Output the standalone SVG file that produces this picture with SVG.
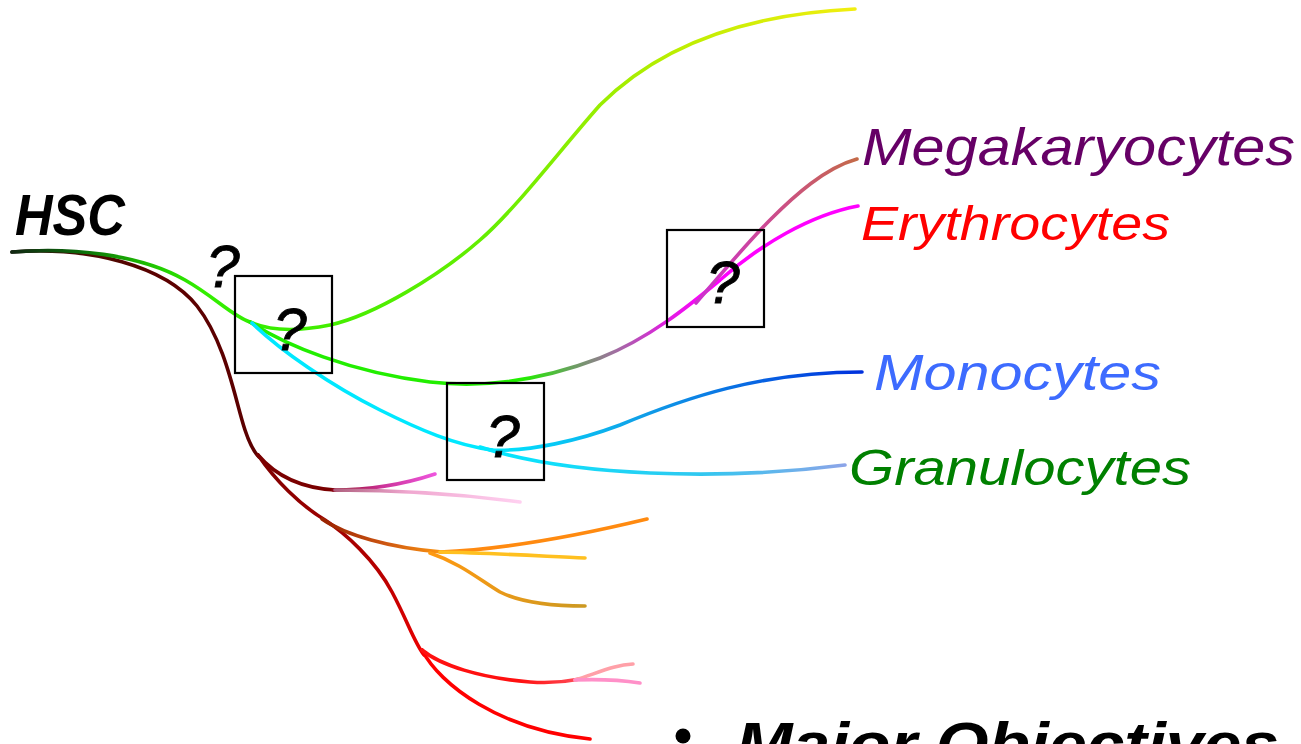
<svg xmlns="http://www.w3.org/2000/svg" width="1301" height="744" viewBox="0 0 1301 744">
  <style>
    .lin { fill: none; stroke-width: 3.6; stroke-linecap: round; stroke-linejoin: round; }
    .box { fill: none; stroke: #000; stroke-width: 2.2; }
    .q { font-family: "Liberation Sans", Arial, sans-serif; font-style: italic; font-size: 60px; fill: #000; stroke: #000; stroke-width: 0.8; text-anchor: middle; }
    .lbl { font-family: "Liberation Sans", Arial, sans-serif; font-style: italic; }
    .bold { font-family: "Liberation Sans", Arial, sans-serif; font-style: italic; font-weight: bold; fill: #000; }
  </style>
  <defs>
    <linearGradient id="gTrunkGreen" gradientUnits="userSpaceOnUse" x1="12" y1="0" x2="200" y2="0">
      <stop offset="0" stop-color="#122812"/>
      <stop offset="0.35" stop-color="#0a6a0a"/>
      <stop offset="0.8" stop-color="#22d000"/>
      <stop offset="1" stop-color="#33ee00"/>
    </linearGradient>
    <linearGradient id="gTrunkRed" gradientUnits="userSpaceOnUse" x1="12" y1="0" x2="160" y2="0">
      <stop offset="0" stop-color="#1f1a10"/>
      <stop offset="0.5" stop-color="#4a0a00"/>
      <stop offset="1" stop-color="#5c0000"/>
    </linearGradient>
    <linearGradient id="gUpper" gradientUnits="userSpaceOnUse" x1="250" y1="0" x2="855" y2="0">
      <stop offset="0" stop-color="#33ee00"/>
      <stop offset="0.4" stop-color="#66ee00"/>
      <stop offset="0.7" stop-color="#bbee00"/>
      <stop offset="1" stop-color="#f2ee10"/>
    </linearGradient>
    <linearGradient id="gEry" gradientUnits="userSpaceOnUse" x1="250" y1="0" x2="858" y2="0">
      <stop offset="0" stop-color="#22ee00"/>
      <stop offset="0.45" stop-color="#22ee00"/>
      <stop offset="0.53" stop-color="#6aa060"/>
      <stop offset="0.6" stop-color="#a070a0"/>
      <stop offset="0.68" stop-color="#dd20dd"/>
      <stop offset="0.75" stop-color="#ff00ff"/>
      <stop offset="1" stop-color="#ff00ff"/>
    </linearGradient>
    <linearGradient id="gMega" gradientUnits="userSpaceOnUse" x1="700" y1="0" x2="857" y2="0">
      <stop offset="0" stop-color="#cc33cc"/>
      <stop offset="0.5" stop-color="#cc4e88"/>
      <stop offset="1" stop-color="#c46a48"/>
    </linearGradient>
    <linearGradient id="gMono" gradientUnits="userSpaceOnUse" x1="490" y1="0" x2="862" y2="0">
      <stop offset="0" stop-color="#00e8ff"/>
      <stop offset="0.4" stop-color="#10a0e8"/>
      <stop offset="1" stop-color="#0030dd"/>
    </linearGradient>
    <linearGradient id="gGran" gradientUnits="userSpaceOnUse" x1="480" y1="0" x2="845" y2="0">
      <stop offset="0" stop-color="#00e8ff"/>
      <stop offset="0.6" stop-color="#30c8f0"/>
      <stop offset="1" stop-color="#8ca4e8"/>
    </linearGradient>
    <linearGradient id="gPink" gradientUnits="userSpaceOnUse" x1="330" y1="0" x2="435" y2="0">
      <stop offset="0" stop-color="#8a0010"/>
      <stop offset="0.5" stop-color="#cc3399"/>
      <stop offset="1" stop-color="#ee55dd"/>
    </linearGradient>
    <linearGradient id="gLtPink" gradientUnits="userSpaceOnUse" x1="335" y1="0" x2="520" y2="0">
      <stop offset="0" stop-color="#b06080"/>
      <stop offset="0.4" stop-color="#f0a8d0"/>
      <stop offset="1" stop-color="#ffd0f0"/>
    </linearGradient>
    <linearGradient id="gOrange" gradientUnits="userSpaceOnUse" x1="323" y1="0" x2="445" y2="0">
      <stop offset="0" stop-color="#992200"/>
      <stop offset="0.5" stop-color="#cc5511"/>
      <stop offset="1" stop-color="#ff9911"/>
    </linearGradient>
    <linearGradient id="gRedMain" gradientUnits="userSpaceOnUse" x1="0" y1="455" x2="0" y2="660">
      <stop offset="0" stop-color="#7a0000"/>
      <stop offset="0.6" stop-color="#bb0000"/>
      <stop offset="1" stop-color="#ee0000"/>
    </linearGradient>
    <linearGradient id="gGold" gradientUnits="userSpaceOnUse" x1="430" y1="0" x2="585" y2="0">
      <stop offset="0" stop-color="#ff9911"/>
      <stop offset="1" stop-color="#cc9922"/>
    </linearGradient>
    <linearGradient id="gRedTip" gradientUnits="userSpaceOnUse" x1="520" y1="0" x2="600" y2="0">
      <stop offset="0" stop-color="#ff1010"/>
      <stop offset="1" stop-color="#ff6070"/>
    </linearGradient>
  </defs>

  <!-- lineage connectors -->
  <g id="connectors">
    <!-- HSC trunk and myeloid/lymphoid stems -->
    <path class="lin" stroke="url(#gTrunkRed)" d="M12,252 C90,246 165,266 197,306 C226,343 235,400 245,430 C250,445 254,452 259,457"/>
    <path class="lin" stroke="url(#gTrunkGreen)" d="M12,252 C70,247 140,254 185,280 C215,297 232,316 250,322"/>

    <!-- upper green to yellow -->
    <path class="lin" stroke="url(#gUpper)" d="M250,322 C272,332 300,331 330,325 C375,315 440,275 480,240 C515,210 560,150 600,105 C650,55 730,15 855,9"/>
    <!-- erythroid line -->
    <path class="lin" stroke="url(#gEry)" d="M250,322 C285,345 350,372 430,382 C490,389 550,377 600,358 C650,338 690,305 720,280 C760,245 810,215 858,206"/>
    <!-- megakaryocyte branch -->
    <path class="lin" stroke="url(#gMega)" d="M696,303 C718,278 745,245 770,220 C795,195 825,168 857,159"/>
    <!-- cyan stem -->
    <path class="lin" stroke="#00e8ff" d="M252,323 C280,350 330,385 380,410 C420,430 455,445 492,450"/>
    <!-- monocytes -->
    <path class="lin" stroke="url(#gMono)" d="M490,450 C530,452 580,440 620,425 C685,398 760,372 862,372"/>
    <!-- granulocytes -->
    <path class="lin" stroke="url(#gGran)" d="M480,447 C520,460 580,470 650,473 C720,476 790,472 845,465"/>

    <!-- upper maroon branch and pink tips -->
    <path class="lin" stroke="#7a0000" d="M258,455 C275,475 300,488 335,490"/>
    <path class="lin" stroke="url(#gPink)" d="M333,490 C370,490 405,484 435,474"/>
    <path class="lin" stroke="url(#gLtPink)" d="M335,490 C390,490 460,494 520,502"/>

    <!-- lower maroon to red -->
    <path class="lin" stroke="url(#gRedMain)" d="M258,455 C275,480 300,505 325,520 C345,533 375,560 392,592 C408,622 414,642 424,655"/>
    <path class="lin" stroke="url(#gOrange)" d="M322,519 C345,535 390,548 442,552"/>
    <path class="lin" stroke="#ff8a10" d="M440,552 C490,550 560,540 647,519"/>
    <path class="lin" stroke="#ffc020" d="M440,552 C490,553 540,556 585,558"/>
    <path class="lin" stroke="url(#gGold)" d="M430,553 C460,563 480,580 500,592 C520,602 550,606 585,606"/>

    <!-- red branches -->
    <path class="lin" stroke="#ff0000" d="M422,650 C440,685 500,730 590,739"/>
    <path class="lin" stroke="url(#gRedTip)" d="M422,650 C440,665 480,678 530,682 C555,684 570,681 580,679"/>
    <path class="lin" stroke="#ffa0a8" d="M575,680 C600,672 615,665 633,664"/>
    <path class="lin" stroke="#ff90c8" d="M575,680 C600,679 620,680 640,683"/>
  </g>

  <!-- root -->
  <g id="node-hsc">
    <text class="bold" x="15" y="235" font-size="57" textLength="110" lengthAdjust="spacingAndGlyphs">HSC</text>
  </g>

  <!-- unknown intermediates -->
  <g id="node-q0">
    <text class="q" x="223" y="287">?</text>
  </g>
  <g id="node-q1">
    <rect class="box" x="235" y="276" width="97" height="97"/>
    <text class="q" x="290" y="350">?</text>
  </g>
  <g id="node-q2">
    <rect class="box" x="447" y="383" width="97" height="97"/>
    <text class="q" x="503" y="457">?</text>
  </g>
  <g id="node-q3">
    <rect class="box" x="667" y="230" width="97" height="97"/>
    <text class="q" x="723" y="303">?</text>
  </g>

  <!-- mature cell types -->
  <g id="node-mega">
    <text class="lbl" x="862" y="165" font-size="51" fill="#660066" textLength="433" lengthAdjust="spacingAndGlyphs">Megakaryocytes</text>
  </g>
  <g id="node-ery">
    <text class="lbl" x="861" y="240" font-size="49" fill="#ff0000" textLength="309" lengthAdjust="spacingAndGlyphs">Erythrocytes</text>
  </g>
  <g id="node-mono">
    <text class="lbl" x="874" y="390" font-size="50" fill="#3d6bff" textLength="287" lengthAdjust="spacingAndGlyphs">Monocytes</text>
  </g>
  <g id="node-gran">
    <text class="lbl" x="849" y="485" font-size="50" fill="#008000" textLength="342" lengthAdjust="spacingAndGlyphs">Granulocytes</text>
  </g>

  <!-- bullet heading, running off the bottom edge -->
  <g id="heading">
    <circle cx="683" cy="736" r="7.5" fill="#000"/>
    <text class="bold" x="736" y="765" font-size="62" textLength="543" lengthAdjust="spacingAndGlyphs">Major Objectives</text>
  </g>
</svg>
